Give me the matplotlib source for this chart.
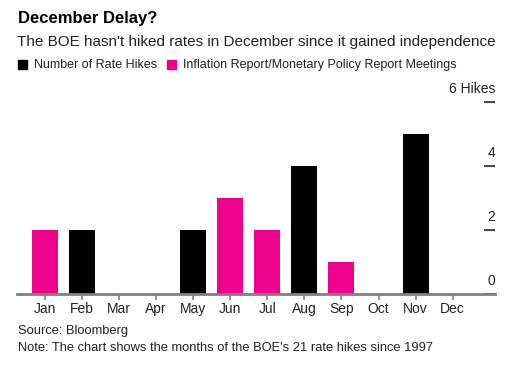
import matplotlib
matplotlib.use("Agg")
import matplotlib.pyplot as plt
from matplotlib.patches import Rectangle
import matplotlib.transforms as mtrans

plt.rcParams['font.family'] = ['Liberation Sans', 'DejaVu Sans']

months = ["Jan", "Feb", "Mar", "Apr", "May", "Jun", "Jul", "Aug", "Sep", "Oct", "Nov", "Dec"]
rate_hikes = [0, 2, 0, 0, 2, 0, 0, 4, 0, 0, 5, 0]
report_meetings = [2, 0, 0, 0, 0, 3, 2, 0, 1, 0, 0, 0]
y_ticks = [0, 2, 4, 6]
y_tick_labels = ["0", "2", "4", "6 Hikes"]

BLACK = "#000000"
PINK = "#ec008c"

W, H = 515, 365
fig = plt.figure(figsize=(W / 100, H / 100), dpi=100)

def fx(px):
    return px / W

def fy(py):
    return 1 - py / H

ax_left, ax_right = 17, 495
ax_top, ax_bot = 102, 294
ax = fig.add_axes([fx(ax_left), fy(ax_bot), fx(ax_right - ax_left), (ax_bot - ax_top) / H])

x = list(range(len(months)))
colors = []
heights = []
for rh, rm in zip(rate_hikes, report_meetings):
    if rh > 0:
        heights.append(rh); colors.append(BLACK)
    else:
        heights.append(rm); colors.append(PINK)
ax.bar(x, heights, width=0.7, color=colors, zorder=2)

ax.set_xlim(-0.75, 12.14)
ax.set_ylim(0, 6)
for s in ["top", "left", "right"]:
    ax.spines[s].set_visible(False)
ax.spines["bottom"].set_color("#808080")
ax.spines["bottom"].set_linewidth(2)
ax.spines["bottom"].set_zorder(3)

ax.set_xticks(x)
ax.set_xticklabels(months, fontsize=10, color="#222222")
ax.tick_params(axis="x", length=4, width=1.2, color="#808080", pad=2)

ax.set_yticks(y_ticks)
ax.tick_params(axis="y", left=False, right=True, labelleft=False, labelright=False,
               direction="in", length=8, width=1.2, color="#222222")
trans = mtrans.blended_transform_factory(ax.transAxes, ax.transData)
for v, lab in zip(y_ticks, y_tick_labels):
    ax.text(1.0, v + 0.2, lab, transform=trans, ha="right", va="bottom",
            fontsize=10, color="#222222")

fig.text(fx(18), fy(18), "December Delay?", fontsize=12, fontweight="bold",
         ha="left", va="center", color="#000000")
fig.text(fx(17), fy(42), "The BOE hasn't hiked rates in December since it gained independence",
         fontsize=11, ha="left", va="center", color="#222222")

fig.patches.append(Rectangle((fx(18), fy(69)), fx(9), 9 / H, transform=fig.transFigure,
                             color=BLACK, figure=fig))
fig.text(fx(34), fy(65), "Number of Rate Hikes", fontsize=9, ha="left", va="center", color="#222222")
fig.patches.append(Rectangle((fx(167), fy(69)), fx(9), 9 / H, transform=fig.transFigure,
                             color=PINK, figure=fig))
fig.text(fx(183), fy(65), "Inflation Report/Monetary Policy Report Meetings", fontsize=9,
         ha="left", va="center", color="#222222")

fig.text(fx(18), fy(331), "Source: Bloomberg", fontsize=9.3, ha="left", va="center", color="#222222")
fig.text(fx(18), fy(348), "Note: The chart shows the months of the BOE's 21 rate hikes since 1997",
         fontsize=9.3, ha="left", va="center", color="#222222")

fig.savefig("out.png", dpi=100, facecolor="white")
